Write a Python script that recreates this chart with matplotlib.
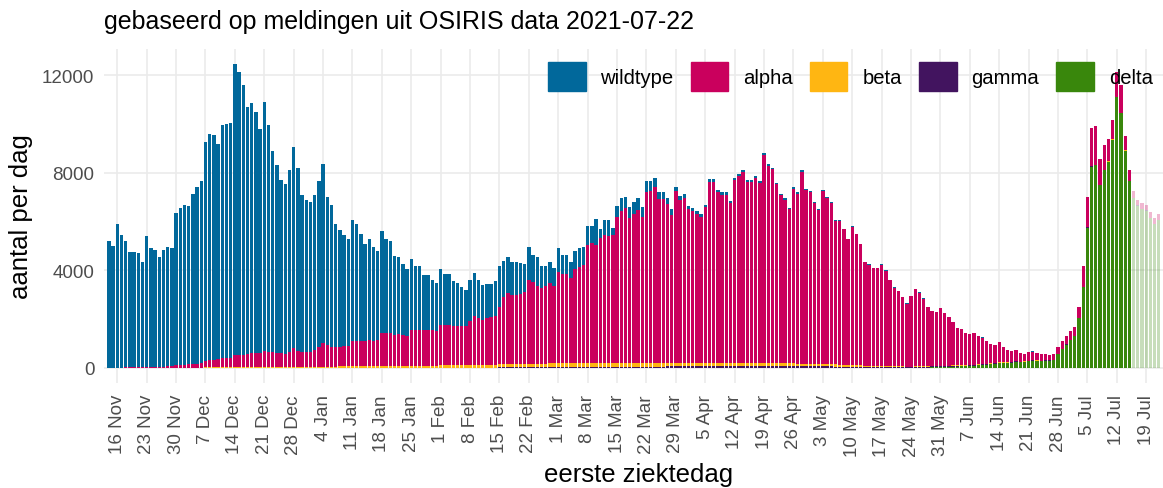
import numpy as np
import pandas as pd
import matplotlib
matplotlib.use('Agg')
import matplotlib.pyplot as plt
import matplotlib.dates as mdates
from matplotlib.patches import Patch
from matplotlib.colors import to_rgba

plt.rcParams['font.family'] = ['Liberation Sans', 'DejaVu Sans']

dagen = pd.date_range('2020-11-14', '2021-07-22', freq='D')
laatste_zeker = pd.Timestamp('2021-07-15')   # daarna nog onvolledig (licht)

# totaal aantal per eerste ziektedag (bovenkant staaf)
totaal = [
    # nov 14-30
    5200, 5000, 5900, 5450, 5200, 4750, 4750, 4700, 4350, 5400, 4900, 4850, 4550, 4850, 4950, 4900, 6350,
    # dec
    6550, 6700, 6650, 7150, 7400, 7650, 9250, 9600, 9550, 9200,
    9950, 10000, 10050, 12450, 12150, 11600, 10700, 10850, 10500, 9800,
    10900, 9950, 8900, 8300, 7700, 7550, 8100, 9050, 8200, 7100, 6900,
    # jan
    6800, 7100, 7650, 8350, 7000, 6700, 5900, 5650, 5450, 5300,
    6050, 5900, 5500, 5100, 5300, 4950, 4800, 5600, 5300, 5200,
    4600, 4550, 4250, 4050, 4450, 4200, 4200, 3800, 3800, 3600, 3500,
    # feb
    4050, 3850, 3850, 3550, 3500, 3300, 3200, 3600, 3900, 3600,
    3400, 3450, 3450, 3550, 4200, 4400, 4550, 4350, 4350, 4300,
    4250, 4950, 4650, 4550, 4200, 4200, 4350, 4100,
    # mrt
    4900, 4650, 4650, 4350, 4800, 4900, 4950, 5800, 5800, 6100,
    5700, 6050, 6050, 5750, 6650, 6950, 7000, 6600, 6800, 6950,
    6600, 7650, 7650, 7800, 7200, 7200, 6950, 6500, 7400, 7050, 7150,
    # apr
    6650, 6550, 6450, 6300, 6700, 7750, 7750, 7300, 7200, 7200,
    6850, 7800, 7950, 8100, 7700, 7700, 7850, 7650, 8800, 8350,
    8200, 7600, 7150, 6950, 6550, 7400, 7200, 8100, 7350, 7250,
    # mei
    6800, 6500, 7300, 7000, 6800, 6050, 6050, 5700, 5300, 5800,
    5500, 5100, 4350, 4250, 4100, 4100, 4250, 4000, 3600, 3300,
    3150, 2900, 2650, 2950, 3250, 3100, 2850, 2500, 2350, 2300, 2450,
    # jun
    2250, 2100, 1900, 1650, 1600, 1450, 1400, 1450, 1300, 1250,
    1120, 1000, 950, 1050, 870, 750, 700, 750, 620, 590,
    650, 680, 620, 570, 570, 550, 570, 860, 1100, 1320,
    # jul 1-22
    1530, 1680, 2500, 4190, 7000, 9850, 9900, 8550, 9150, 9400,
    10150, 12150, 11600, 9500, 8100, 7250, 6900, 6750, 6700, 6400,
    6150, 6300,
]

alpha = [
    10, 10, 15, 15, 20, 20, 20, 25, 25, 30, 35, 40, 40, 50, 60, 70, 100,
    110, 120, 130, 150, 160, 180, 270, 300, 300, 320,
    370, 380, 400, 500, 500, 510, 520, 560, 570, 580,
    640, 620, 600, 580, 560, 550, 620, 750, 650, 600, 620,
    620, 680, 780, 950, 880, 820, 800, 800, 820, 820,
    1050, 1050, 1050, 1050, 1080, 1050, 1060, 1350, 1350, 1350,
    1280, 1300, 1250, 1230, 1450, 1450, 1450, 1450, 1450, 1450, 1440,
    1650, 1650, 1650, 1600, 1600, 1600, 1620, 1800, 2000, 1900,
    1850, 1900, 1950, 2000, 2350, 2750, 2900, 2850, 2850, 2850,
    2950, 3450, 3350, 3200, 3100, 3200, 3300, 3180,
    3750, 3650, 3650, 3500, 3850, 3950, 4000, 4850, 4900, 4850,
    5100, 5250, 5200, 5250, 5950, 6190, 6350, 5920, 6100, 6270,
    5970, 6970, 7030, 7180, 6700, 6720, 6500, 6070, 7020, 6670, 6750,
    6300, 6210, 6120, 5980, 6380, 7400, 7410, 6990, 6900, 6900,
    6560, 7510, 7670, 7820, 7430, 7430, 7590, 7390, 8530, 8090,
    7950, 7350, 6910, 6710, 6310, 7160, 6970, 7870, 7120, 7020,
    6590, 6290, 7100, 6810, 6620, 5880, 5890, 5540, 5160, 5660,
    5370, 4970, 4250, 4150, 4010, 4020, 4170, 3920, 3520, 3220,
    3075, 2825, 2580, 2880, 3175, 3020, 2775, 2420, 2270, 2215, 2360,
    2160, 2000, 1790, 1540, 1485, 1335, 1275, 1305, 1145, 1085,
    940, 810, 750, 810, 630, 510, 455, 465, 355, 315,
    345, 355, 305, 265, 245, 220, 220, 270, 310, 340,
    365, 365, 435, 875, 1235, 1585, 1585, 1035, 1035, 935,
    785, 1035, 1135, 585, 435, 285, 235, 235, 235, 235,
    235, 235,
]

beta = [
    5, 5, 5, 5, 5, 5, 10, 10, 10, 10, 10, 10, 10, 10, 15, 15, 15,
    15, 15, 20, 20, 20, 20, 25, 25, 25, 30, 30, 30, 30, 35, 35, 35,
    35, 40, 40, 40, 40, 40, 40, 40, 40, 40, 45, 50, 50, 50, 50,
    55, 55, 60, 60, 60, 60, 60, 65, 65, 65, 70, 70, 70, 70, 75, 75,
    75, 80, 80, 80, 80, 85, 85, 85, 90, 90, 90, 90, 95, 95, 95,
    100, 100, 100, 105, 105, 105, 110, 110, 110, 115, 115, 120, 120, 120,
    125, 125, 130, 130, 130, 135, 135, 140, 140, 140, 145, 145, 150, 150,
    150, 150, 150, 155, 155, 155, 160, 160, 160, 160, 165, 165, 165, 165,
    165, 170, 170, 170, 170, 165, 165, 165, 160, 160, 160, 155, 155, 150,
    150, 150, 145,
    140, 140, 140, 140, 135, 135, 135, 135, 130, 130, 130, 130, 130, 125,
    125, 125, 125, 120, 120, 120, 120, 120, 115, 115, 115, 115, 110, 110,
    110, 110,
    110, 110, 100, 100, 90, 90, 80, 80, 70, 70, 60, 60, 30, 30, 20, 20,
    20, 20, 20, 20, 15, 15, 15, 15, 10, 10, 10, 10, 10, 10, 10,
    10, 10, 10, 10, 10, 10, 10, 10, 10, 10, 10, 10, 10, 10, 10, 10, 10, 10,
    10, 10, 10, 10, 10, 10, 10, 10, 10, 10, 10, 10,
    5, 5, 5, 5, 5, 5, 5, 5, 5, 5, 5, 5, 5, 5, 5, 5, 5, 5, 5, 5, 5, 5,
]

# gamma vanaf 1 feb, delta vanaf 25 mei
gamma_start = '2021-02-01'
gamma = [
    5, 5, 5, 10, 10, 10, 10, 15, 15, 15, 20, 20, 20, 20, 25, 25, 25, 25,
    30, 30, 30, 30, 35, 35, 35, 35, 40, 40,
    40, 40, 40, 45, 45, 45, 45, 45, 50, 50, 50, 50, 50, 50, 55, 55, 55,
    55, 55, 55, 60, 60, 60, 60, 60, 60, 65, 65, 65, 65, 65,
    65, 65, 65, 70, 70, 70, 70, 70, 70, 70, 75, 75, 75, 75, 75, 75, 75,
    75, 80, 80, 80, 80, 75, 75, 75, 75, 70, 70, 70, 70,
    70, 70, 70, 70, 70, 60, 60, 60, 60, 60, 60, 60, 60, 60, 60, 50, 50,
    50, 50, 50, 50, 50, 45, 45, 45, 45, 40, 40, 40, 40, 40,
    35, 35, 35, 35, 30, 30, 30, 30, 30, 30, 25, 25, 25, 25, 25, 25, 20,
    20, 20, 20, 20, 20, 20, 20, 20, 15, 15, 15, 15, 15,
    10, 10, 10, 10, 10, 10, 10, 10, 10, 10, 10, 10, 10, 10, 10, 10, 10,
    10, 10, 10, 10, 10,
]

delta_start = '2021-05-25'
delta = [
    10, 15, 15, 20, 25, 30, 35,
    40, 50, 60, 60, 70, 70, 80, 100, 110, 120,
    140, 150, 160, 200, 200, 200, 210, 250, 230, 240,
    270, 290, 280, 270, 290, 300, 320, 560, 760, 950,
    1150, 1300, 2050, 3300, 5750, 8250, 8300, 7500, 8100, 8450,
    9350, 11100, 10450, 8900, 7650, 6950, 6650, 6500, 6450, 6150,
    5900, 6050,
]

kleur = {'wildtype': '#01689b', 'alpha': '#ca005d', 'beta': '#ffb612',
         'gamma': '#42145f', 'delta': '#39870c'}


def op_dagen(waarden, start):
    s = pd.Series(waarden, index=pd.date_range(start, periods=len(waarden), freq='D'))
    return s.reindex(dagen, fill_value=0).to_numpy(dtype=float)


totaal = np.array(totaal, dtype=float)
lagen = {
    'alpha': np.array(alpha, dtype=float),
    'beta': np.array(beta, dtype=float),
    'gamma': op_dagen(gamma, gamma_start),
    'delta': op_dagen(delta, delta_start),
}
lagen['wildtype'] = np.clip(totaal - sum(lagen.values()), 0, None)

fig = plt.figure(figsize=(11.63, 4.89), dpi=100)
ax = fig.add_axes([104 / 1163, 105 / 489, 1059 / 1163, 334 / 489])

zeker = dagen <= laatste_zeker
bodem = np.zeros(len(dagen))
for naam in ['delta', 'gamma', 'beta', 'alpha', 'wildtype']:
    w = lagen[naam]
    kleuren = [to_rgba(kleur[naam], 1.0 if z else 0.28) for z in zeker]
    ax.bar(dagen, w, width=0.8, bottom=bodem, color=kleuren, linewidth=0, zorder=2)
    bodem += w

ax.set_xlim(dagen[0] - pd.Timedelta(hours=28), dagen[-1] + pd.Timedelta(hours=24))
ax.set_ylim(-615, 13074)
ax.set_yticks([0, 4000, 8000, 12000])
ax.xaxis.set_major_locator(mdates.WeekdayLocator(byweekday=mdates.MO))
ax.xaxis.set_major_formatter(mdates.DateFormatter('%-d %b'))
for lbl in ax.get_xticklabels():
    lbl.set_rotation(90)

ax.tick_params(axis='both', length=0, labelsize=13.5, colors='#4d4d4d')
ax.tick_params(axis='x', pad=8)
ax.tick_params(axis='y', pad=7)
ax.grid(True, color='#ebebeb', linewidth=1.2, zorder=0)
ax.set_axisbelow(True)
for sp in ax.spines.values():
    sp.set_visible(False)

ax.set_xlabel('eerste ziektedag', fontsize=18.5, va='center')
ax.xaxis.set_label_coords(0.505, -0.272)
ax.set_ylabel('aantal per dag', fontsize=18.5, va='center')
ax.yaxis.set_label_coords(-0.078, 0.5)

fig.text(104 / 1163, 1 - 22 / 489, 'gebaseerd op meldingen uit OSIRIS data 2021-07-22',
         fontsize=18, va='center', ha='left')

handles = [Patch(color=kleur[n], label=n) for n in ['wildtype', 'alpha', 'beta', 'gamma', 'delta']]
fig.legend(handles=handles, ncol=5, loc='center left',
           bbox_to_anchor=(548 / 1163, 1 - 77.7 / 489), frameon=False,
           fontsize=14.6, handlelength=1.85, handleheight=1.85,
           handletextpad=0.74, columnspacing=0.84, borderpad=0, borderaxespad=0)

fig.savefig('out.png', dpi=100)
